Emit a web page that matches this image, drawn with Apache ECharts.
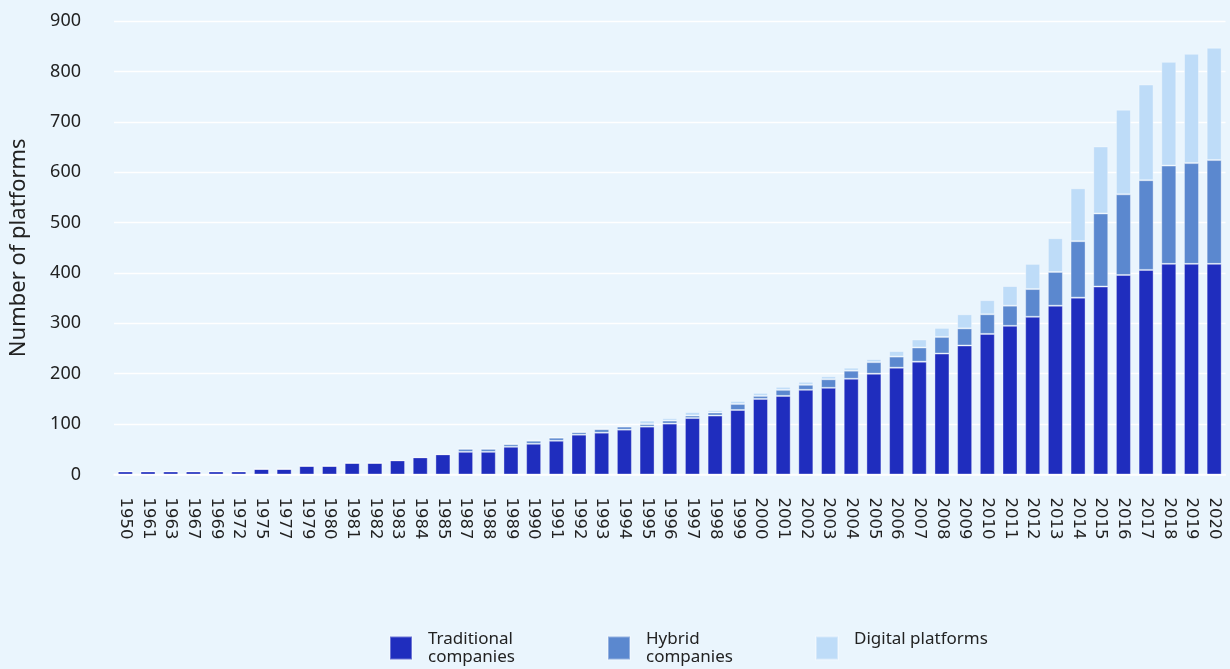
<!DOCTYPE html>
<html>
<head>
<meta charset="utf-8">
<script src="https://cdn.jsdelivr.net/npm/echarts@6/dist/echarts.min.js"></script>
<style>
html,body{margin:0;padding:0;background:#eaf5fd;}
#chart{width:1230px;height:669px;}
</style>
</head>
<body>
<div id="chart"></div>
<script>
var categories = ['1950','1961','1963','1967','1969','1972','1975','1977','1979','1980','1981','1982','1983','1984','1985','1987','1988','1989','1990','1991','1992','1993','1994','1995','1996','1997','1998','1999','2000','2001','2002','2003','2004','2005','2006','2007','2008','2009','2010','2011','2012','2013','2014','2015','2016','2017','2018','2019','2020'];
var traditional = [6,6,6,6,6,6,11,11,17,17,23,23,28,34,40,45,45,55,61,67,79,83,89,95,101,112,117,128,150,156,168,172,190,200,212,224,240,256,279,295,313,335,351,373,396,406,418,418,418];
var hybrid = [0,0,0,0,0,0,0,0,0,0,0,0,0,0,0,6,6,5,6,6,5,7,6,5,6,5,6,12,6,12,10,17,16,23,22,28,33,34,39,40,55,67,112,145,160,178,195,200,206];
var digital = [0,0,0,0,0,0,0,0,0,0,0,0,0,0,0,0,0,2,2,1,1,1,2,7,5,7,5,6,6,6,6,6,6,6,11,16,18,28,28,39,50,67,105,133,168,190,206,217,223];
var yTicks = {min:0, max:900, interval:100};
var seriesNames = ['Traditional companies','Hybrid companies','Digital platforms'];
var legendLabels = ['Traditional\ncompanies','Hybrid\ncompanies','Digital platforms\n '];
var colors = ['#1f2dbe','#5b88cf','#bedcf8'];

var chart = echarts.init(document.getElementById('chart'));
var font = 'Noto Sans';
function mkSeries(name, data, color){
  return {
    name: name, type: 'bar', stack: 'total', data: data, barWidth: 15,
    itemStyle: {color: color, borderColor: 'rgba(255,255,255,0.35)', borderWidth: 1},
    emphasis: {disabled: true}
  };
}
var legendLefts = [389, 607, 815];
var legends = seriesNames.map(function(n, i){
  return {
    data: [n], left: legendLefts[i], top: 625, padding: 0, orient: 'horizontal',
    itemWidth: 22, itemHeight: 23, icon: 'rect', selectedMode: false,
    formatter: function(){ return legendLabels[i]; },
    textStyle: {fontFamily: font, fontSize: 17, color: '#222', lineHeight: 18, padding: [10,0,0,11]}
  };
});
chart.setOption({
  backgroundColor: '#eaf5fd',
  animation: false,
  color: colors,
  legend: legends,
  grid: {left: 114, right: 4.5, top: 21, bottom: 194.5, containLabel: false},
  xAxis: {
    type: 'category', data: categories,
    axisLine: {show: true, lineStyle: {color: '#ffffff', width: 1.5}},
    axisTick: {show: false},
    axisLabel: {interval: 0, rotate: -90, fontFamily: 'DejaVu Sans', fontSize: 16.5, color: '#222', margin: 23}
  },
  yAxis: {
    type: 'value', min: yTicks.min, max: yTicks.max, interval: yTicks.interval,
    name: 'Number of platforms', nameLocation: 'middle', nameGap: 84, nameRotate: 90,
    nameTextStyle: {fontFamily: font, fontSize: 22, color: '#222'},
    axisLine: {show: false}, axisTick: {show: false},
    axisLabel: {fontFamily: font, fontSize: 18, color: '#222', margin: 33},
    splitLine: {show: true, lineStyle: {color: '#ffffff', width: 1.3}}
  },
  series: [
    mkSeries(seriesNames[0], traditional, colors[0]),
    mkSeries(seriesNames[1], hybrid, colors[1]),
    mkSeries(seriesNames[2], digital, colors[2])
  ]
});
</script>
</body>
</html>
